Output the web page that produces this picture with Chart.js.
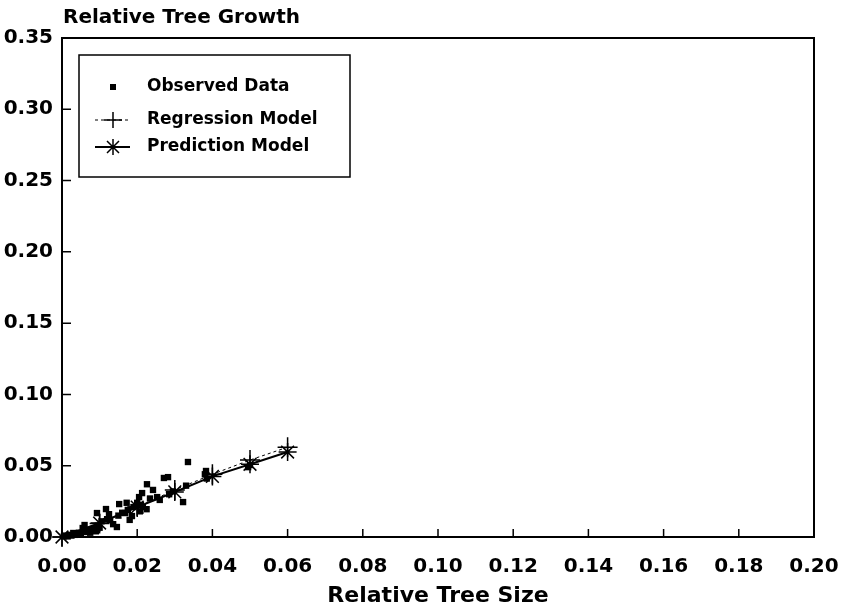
<!DOCTYPE html>
<html lang="en">
<head>
  <meta charset="UTF-8" />
  <title>Relative Tree Growth</title>
  <script src="https://cdn.jsdelivr.net/npm/chart.js"></script>
  <style>
    body { margin: 0; background: #fff; }
    #wrap { width: 843px; height: 614px; }
  </style>
</head>
<body>
  <div id="wrap"><canvas id="growthChart" width="843" height="614"></canvas></div>

  <script>
    // observed data (relative size, relative growth)
    const obsX = [0.0005, 0.001, 0.0015, 0.002, 0.0025, 0.003, 0.0035, 0.004, 0.0045, 0.005,
                  0.0055, 0.006, 0.006, 0.0065, 0.007, 0.0075, 0.008, 0.0085, 0.009, 0.0093,
                  0.0095, 0.010, 0.0105, 0.0117, 0.012, 0.0128, 0.0136, 0.0146, 0.015, 0.0152,
                  0.016, 0.0168, 0.0172, 0.0175, 0.0186, 0.019, 0.020, 0.0205, 0.0207, 0.021,
                  0.0213, 0.0215, 0.0226, 0.0234, 0.0242, 0.0253, 0.026, 0.0271, 0.0282, 0.0285,
                  0.0322, 0.033, 0.0335, 0.0383, 0.038, 0.018, 0.0225, 0.0125, 0.0495, 0.0385,
                  0.050, 0.0295];
    const obsY = [0.0005, 0.001, 0.0004, 0.0015, 0.001, 0.0028, 0.0015, 0.002, 0.003, 0.0025,
                  0.0063, 0.0084, 0.004, 0.0035, 0.005, 0.003, 0.0045, 0.006, 0.004, 0.0168,
                  0.008, 0.0065, 0.011, 0.0196, 0.0125, 0.012, 0.009, 0.007, 0.015, 0.0231,
                  0.017, 0.0168, 0.024, 0.019, 0.0147, 0.021, 0.024, 0.028, 0.018, 0.0225,
                  0.0308, 0.021, 0.037, 0.027, 0.033, 0.028, 0.026, 0.0414, 0.042, 0.030,
                  0.0245, 0.036, 0.0526, 0.0463, 0.044, 0.012, 0.0195, 0.016, 0.049, 0.041,
                  0.0505, 0.032];

    // model curves
    const modelX = [0.00, 0.01, 0.02, 0.03, 0.04, 0.05, 0.06];
    const regY   = [0.000, 0.0095, 0.021, 0.033, 0.044, 0.054, 0.063];
    const predY  = [0.000, 0.0098, 0.021, 0.0316, 0.0425, 0.051, 0.0596];

    const xTicks = [0, 0.02, 0.04, 0.06, 0.08, 0.10, 0.12, 0.14, 0.16, 0.18, 0.20];
    const yTicks = [0, 0.05, 0.10, 0.15, 0.20, 0.25, 0.30, 0.35];

    const seriesNames = ['Observed Data', 'Regression Model', 'Prediction Model'];

    const FONT = "'DejaVu Sans', sans-serif";
    const toPts = (xs, ys) => xs.map((x, i) => ({ x: x, y: ys[i] }));

    // frame, inward ticks, top-left y title and boxed legend
    const decor = {
      id: 'decor',
      afterDraw(chart) {
        const ctx = chart.ctx;
        const a = chart.chartArea;
        const xs = chart.scales.x, ys = chart.scales.y;
        ctx.save();
        ctx.strokeStyle = '#000';
        ctx.lineWidth = 2;
        ctx.strokeRect(a.left, a.top, a.right - a.left, a.bottom - a.top);

        ctx.lineWidth = 1.5;
        ctx.beginPath();
        xTicks.forEach(v => {
          const px = xs.getPixelForValue(v);
          ctx.moveTo(px, a.bottom);
          ctx.lineTo(px, a.bottom - 8);
        });
        yTicks.forEach(v => {
          const py = ys.getPixelForValue(v);
          ctx.moveTo(a.left, py);
          ctx.lineTo(a.left + 9, py);
        });
        ctx.stroke();

        ctx.fillStyle = '#000';
        ctx.font = 'bold 20px ' + FONT;
        ctx.textAlign = 'left';
        ctx.textBaseline = 'alphabetic';
        ctx.fillText('Relative Tree Growth', a.left + 1, 23);

        // legend box
        const bx = a.left + 17, by = a.top + 17, bw = 271, bh = 122;
        ctx.lineWidth = 1.5;
        ctx.strokeRect(bx, by, bw, bh);
        const sx = bx + 34, tx = bx + 68;
        const rows = [by + 32, by + 65, by + 92];

        ctx.fillRect(sx - 3, rows[0] - 3, 6, 6);

        ctx.lineWidth = 1;
        ctx.setLineDash([3, 3]);
        ctx.beginPath();
        ctx.moveTo(sx - 18, rows[1]);
        ctx.lineTo(sx + 17, rows[1]);
        ctx.stroke();
        ctx.setLineDash([]);
        ctx.lineWidth = 1.5;
        ctx.beginPath();
        ctx.moveTo(sx, rows[1] - 8); ctx.lineTo(sx, rows[1] + 8);
        ctx.moveTo(sx - 9, rows[1]); ctx.lineTo(sx + 9, rows[1]);
        ctx.stroke();

        ctx.lineWidth = 2;
        ctx.beginPath();
        ctx.moveTo(sx - 18, rows[2]);
        ctx.lineTo(sx + 17, rows[2]);
        ctx.stroke();
        ctx.lineWidth = 1.5;
        ctx.beginPath();
        ctx.moveTo(sx, rows[2] - 8); ctx.lineTo(sx, rows[2] + 8);
        ctx.moveTo(sx - 6, rows[2] - 6); ctx.lineTo(sx + 6, rows[2] + 6);
        ctx.moveTo(sx - 6, rows[2] + 6); ctx.lineTo(sx + 6, rows[2] - 6);
        ctx.stroke();

        ctx.font = 'bold 17px ' + FONT;
        ctx.textBaseline = 'middle';
        seriesNames.forEach((n, i) => ctx.fillText(n, tx, rows[i]));
        ctx.restore();
      }
    };

    new Chart(document.getElementById('growthChart'), {
      type: 'scatter',
      data: {
        datasets: [
          {
            label: seriesNames[1],
            data: toPts(modelX, regY),
            showLine: true,
            borderColor: '#000',
            borderWidth: 1,
            borderDash: [3, 3],
            pointStyle: 'cross',
            pointRadius: 10,
            pointBorderWidth: 1.5,
            pointBorderColor: '#000',
            clip: false
          },
          {
            label: seriesNames[2],
            data: toPts(modelX, predY),
            showLine: true,
            borderColor: '#000',
            borderWidth: 2,
            pointStyle: 'star',
            pointRadius: 9,
            pointBorderWidth: 1.5,
            pointBorderColor: '#000',
            clip: false
          },
          {
            label: seriesNames[0],
            data: toPts(obsX, obsY),
            pointStyle: 'rect',
            pointRadius: 4.5,
            pointBackgroundColor: '#000',
            pointBorderColor: '#000',
            pointBorderWidth: 0,
            clip: false
          }
        ]
      },
      options: {
        responsive: false,
        animation: false,
        layout: { padding: { top: 38, right: 29, left: 0, bottom: 0 } },
        plugins: { legend: { display: false }, tooltip: { enabled: false } },
        scales: {
          x: {
            type: 'linear',
            min: 0, max: 0.2,
            afterBuildTicks: s => { s.ticks = xTicks.map(v => ({ value: v })); },
            afterFit: s => { s.height = 77; s.paddingLeft = 0; s.paddingRight = 0; },
            grid: { display: false, drawTicks: false },
            border: { display: false },
            ticks: {
              color: '#000', padding: 18,
              font: { family: FONT, size: 20, weight: 'bold' },
              callback: v => v.toFixed(2)
            },
            title: {
              display: true, text: 'Relative Tree Size', color: '#000',
              font: { family: FONT, size: 22, weight: 'bold' },
              padding: { top: 0, bottom: 5 }
            }
          },
          y: {
            type: 'linear',
            min: 0, max: 0.35,
            afterBuildTicks: s => { s.ticks = yTicks.map(v => ({ value: v })); },
            afterFit: s => { s.width = 62; s.paddingTop = 0; s.paddingBottom = 0; },
            grid: { display: false, drawTicks: false },
            border: { display: false },
            ticks: {
              color: '#000', padding: 9,
              font: { family: FONT, size: 20, weight: 'bold' },
              callback: v => v.toFixed(2)
            }
          }
        }
      },
      plugins: [decor]
    });
  </script>
</body>
</html>
